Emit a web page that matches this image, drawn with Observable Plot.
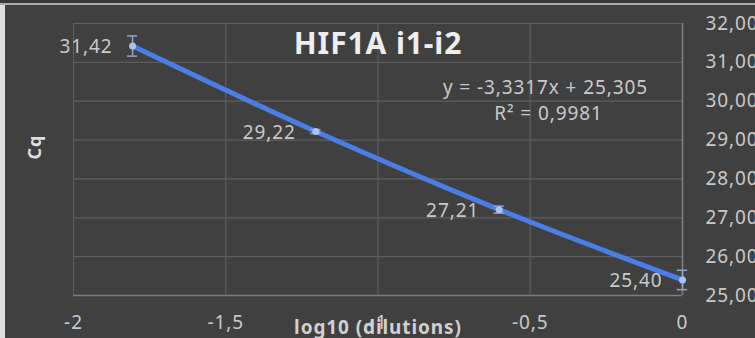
<!DOCTYPE html>
<html>
<head>
<meta charset="utf-8">
<script src="https://cdn.jsdelivr.net/npm/d3@7"></script>
<script src="https://cdn.jsdelivr.net/npm/@observablehq/plot@0.6"></script>
<style>
  html, body { margin: 0; padding: 0; background: #3b3b3b; }
  #frame {
    position: absolute; left: 0; top: 0; width: 755px; height: 338px; overflow: hidden;
    background: #404040;
  }
  #edgeTop { position: absolute; left: 0; top: 0; width: 755px; height: 3px; background: #383838; border-bottom: 2px solid #a9a9a9; }
  #edgeLeft { position: absolute; left: 0; top: 5px; width: 5px; height: 333px; background: #dedede; }
  #chart { position: absolute; left: 6px; top: 5px; }
  #chart text { letter-spacing: 0.9px; }
  svg { overflow: visible; }
</style>
</head>
<body>
<div id="frame">
  <div id="edgeTop"></div>
  <div id="edgeLeft"></div>
  <div id="chart"></div>
</div>
<script>
// Standard curve: Cq against log10 of the dilution
const dilutions = [-1.806, -1.204, -0.602, 0];
const cq = [31.42, 29.22, 27.21, 25.40];
const cqError = [0.26, 0.05, 0.09, 0.25];
const xTicks = [-2, -1.5, -1, -0.5, 0];
const yTicks = [25, 26, 27, 28, 29, 30, 31, 32];
const slope = -3.3317;
const intercept = 25.305;
const rSquared = 0.9981;
const title = "HIF1A i1-i2";
const xLabel = "log10 (dilutions)";
const yLabel = "Cq";

const comma = s => s.replace(".", ",");
const points = dilutions.map((x, i) => ({x, y: cq[i], e: cqError[i]}));
const caps = points.flatMap(d => [{x: d.x, y: d.y - d.e}, {x: d.x, y: d.y + d.e}]);
const capHalf = 0.017; // half width of an error-bar cap, in x units
const equation = `y = ${comma(String(slope))}x + ${comma(String(intercept))}`;
const r2Text = `R² = ${comma(String(rSquared))}`;

const font = "'Noto Sans', 'Open Sans', sans-serif";
const textColor = "#c9c9c9";
const blue = "#4a7ee6";
const errColor = "#8fa3c9";

const chart = Plot.plot({
  width: 749,
  height: 333,
  marginLeft: 67,
  marginRight: 73,
  marginTop: 18,
  marginBottom: 43,
  style: {background: "transparent", color: textColor, fontFamily: font},
  x: {type: "linear", domain: [-2, 0]},
  y: {type: "linear", domain: [25, 32]},
  marks: [
    Plot.gridX(xTicks, {stroke: "#5e5e5e", strokeOpacity: 1, strokeWidth: 1.2}),
    Plot.gridY(yTicks, {stroke: "#5e5e5e", strokeOpacity: 1, strokeWidth: 1.2}),
    Plot.ruleY([25], {stroke: "#7d7d7d", strokeWidth: 1.6}),
    Plot.ruleX([0], {stroke: "#7d7d7d", strokeWidth: 1.6}),
    Plot.axisX(xTicks, {tickSize: 0, tickPadding: 20, tickFormat: d => comma(String(d)), fontSize: 19, fill: textColor, label: null}),
    Plot.axisY(yTicks, {anchor: "right", tickSize: 0, tickPadding: 23, tickFormat: d => comma(d.toFixed(2)), fontSize: 19, fill: textColor, label: null}),
    // soft glow beneath the series line
    Plot.line(points, {x: "x", y: "y", stroke: "#2f63d8", strokeWidth: 16, strokeOpacity: 0.5, curve: "catmull-rom", ariaLabel: "glow"}),
    Plot.line(points, {x: "x", y: "y", stroke: blue, strokeWidth: 5, curve: "catmull-rom"}),
    Plot.ruleX(points, {x: "x", y1: d => d.y - d.e, y2: d => d.y + d.e, stroke: errColor, strokeWidth: 1.5}),
    Plot.ruleY(caps, {y: "y", x1: d => d.x - capHalf, x2: d => d.x + capHalf, stroke: errColor, strokeWidth: 1.5}),
    Plot.dot(points, {x: "x", y: "y", r: 3.5, fill: "#a9c3f5", stroke: "none"}),
    Plot.text(points, {x: "x", y: "y", text: d => comma(d.y.toFixed(2)), textAnchor: "end", dx: -20, dy: 1, fontSize: 19, fill: textColor}),
    Plot.text([equation], {x: -0.45, y: 30.35, text: d => d, fontSize: 19, fill: textColor}),
    Plot.text([r2Text], {x: -0.44, y: 29.68, text: d => d, fontSize: 19, fill: textColor}),
    Plot.text([title], {frameAnchor: "top", lineAnchor: "middle", dy: 21, text: d => d, fontSize: 30, fontWeight: "bold", fill: "#eeeeee"}),
    Plot.text([yLabel], {frameAnchor: "left", dx: -38, rotate: -90, text: d => d, fontSize: 18, fontWeight: "bold", fill: "#dddddd"}),
    Plot.text([xLabel], {frameAnchor: "bottom", lineAnchor: "middle", dy: 32, text: d => d, fontSize: 19, fontWeight: "bold", fill: "#d0d0d0"})
  ]
});

document.getElementById("chart").append(chart);

// blur the glow beneath the series line
d3.select(chart).select('g[aria-label="glow"]').style("filter", "blur(4px)");
</script>
</body>
</html>
